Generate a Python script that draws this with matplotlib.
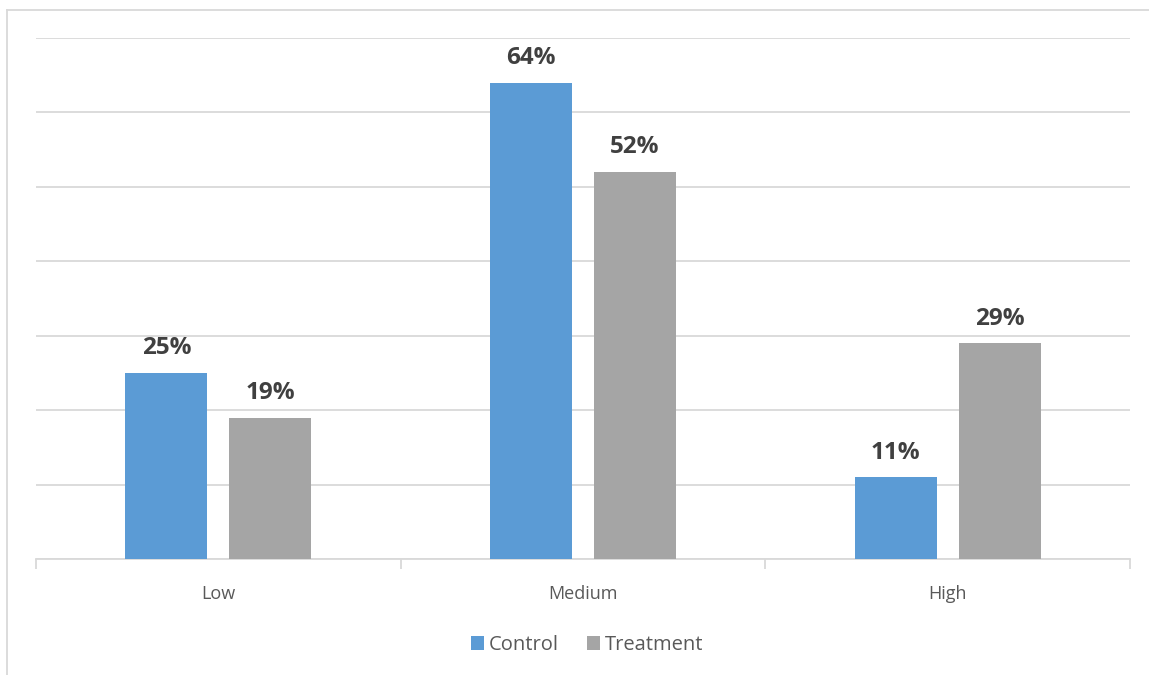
import numpy as np
import matplotlib.pyplot as plt
from matplotlib.lines import Line2D

plt.rcParams['font.family'] = ['Open Sans', 'DejaVu Sans']

categories = ['Low', 'Medium', 'High']
control = [25, 64, 11]
treatment = [19, 52, 29]
series_names = ['Control', 'Treatment']

blue = '#5b9bd5'
gray = '#a5a5a5'
grid_col = '#d9d9d9'

fig = plt.figure(figsize=(11.49, 6.75), dpi=100)
ax = fig.add_axes([36 / 1149, (675 - 559) / 675, (1130 - 36) / 1149, (559 - 38) / 675])

x = np.arange(len(categories))
w = 0.225
off = 0.1425
b1 = ax.bar(x - off, control, w, color=blue, label=series_names[0], zorder=3)
b2 = ax.bar(x + off, treatment, w, color=gray, label=series_names[1], zorder=3)

for bars, vals in ((b1, control), (b2, treatment)):
    for r, v in zip(bars, vals):
        ax.annotate(f'{v}%', (r.get_x() + r.get_width() / 2, v),
                    xytext=(0, 9), textcoords='offset points', ha='center', va='bottom',
                    fontsize=17.5, fontweight='bold', color='#404040')

ax.set_xlim(-0.5, 2.5)
ax.set_ylim(0, 70)
ax.set_yticks(np.arange(0, 71, 10))
ax.tick_params(axis='y', left=False, labelleft=False)
ax.grid(axis='y', color=grid_col, linewidth=1.3, zorder=0)
for s in ('top', 'right', 'left'):
    ax.spines[s].set_visible(False)
ax.spines['bottom'].set_color(grid_col)
ax.spines['bottom'].set_linewidth(1.3)

ax.set_xticks(x)
ax.set_xticklabels(categories, fontsize=13, color='#595959')
ax.tick_params(axis='x', which='major', length=0, pad=19)
ax.set_xticks([-0.5, 0.5, 1.5, 2.5], minor=True)
ax.tick_params(axis='x', which='minor', length=7, color=grid_col, width=1.3)

fig.legend(handles=[b1, b2], loc='center', bbox_to_anchor=(587 / 1149, (675 - 645) / 675),
           ncol=2, frameon=False, fontsize=14.5, handlelength=0.65, handleheight=0.65,
           handletextpad=0.25, columnspacing=1.4, labelcolor='#595959')

# chart border (top and left edges visible)
fig.add_artist(Line2D([7 / 1149, 1], [1 - 10 / 675, 1 - 10 / 675], color=grid_col, lw=1.3))
fig.add_artist(Line2D([7 / 1149, 7 / 1149], [0, 1 - 10 / 675], color=grid_col, lw=1.3))

fig.savefig('out.png', dpi=100)
